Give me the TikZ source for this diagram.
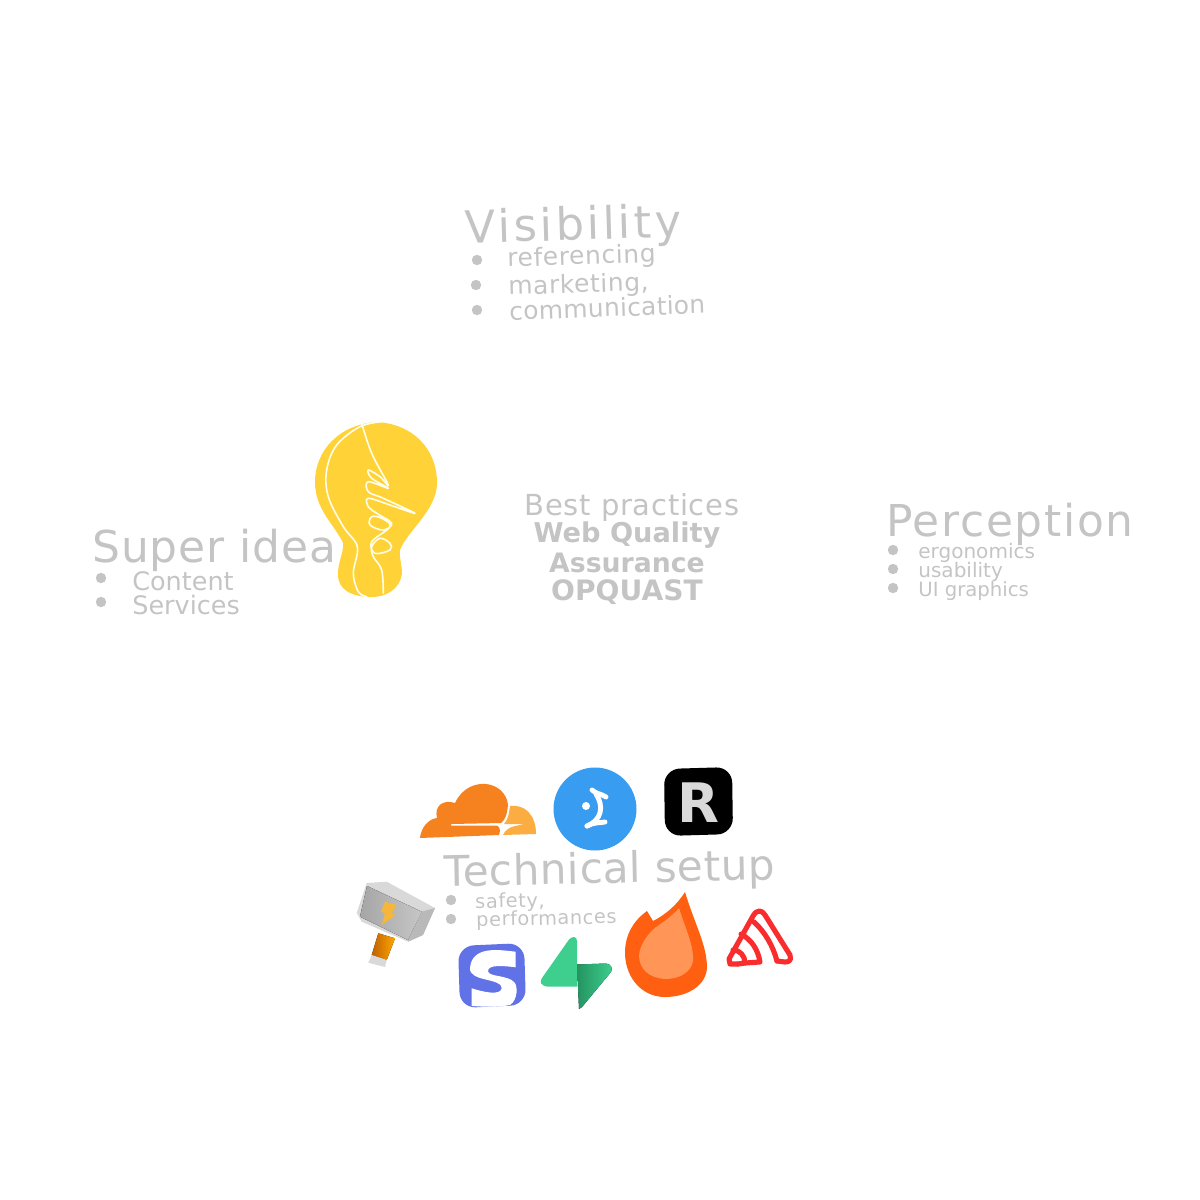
\documentclass[tikz,border=0pt]{standalone}
\usepackage{fontspec}
\setmainfont{DejaVu Sans}
\usetikzlibrary{positioning}
\definecolor{txtgray}{HTML}{C4C4C4}
\definecolor{bulbyellow}{HTML}{FFD337}
\definecolor{cforange}{HTML}{F6821F}
\definecolor{cflight}{HTML}{FBAD41}
\definecolor{dotblue}{HTML}{389CF0}
\definecolor{stripeblue}{HTML}{6172E6}
\definecolor{supagreen}{HTML}{3ECF8E}
\definecolor{supadark}{HTML}{249361}
\definecolor{fireorange}{HTML}{FF5F11}
\definecolor{firelight}{HTML}{FF9657}
\definecolor{sentryred}{HTML}{F92D2D}
\definecolor{boltyellow}{HTML}{F5B63C}
\tikzset{
	labeltext/.style 2 args={text=txtgray,anchor=west,inner sep=0pt,font=\fontsize{#1}{#1}\selectfont\addfontfeature{LetterSpace=#2}},
	centertext/.style 2 args={text=txtgray,inner sep=0pt,font=\fontsize{#1}{#1}\selectfont\addfontfeature{LetterSpace=#2}},
	boldtext/.style 2 args={text=txtgray,inner sep=0pt,font=\fontsize{#1}{#1}\selectfont\bfseries\addfontfeature{LetterSpace=#2}},
	filament/.style={draw=white!92!yellow,line width=0.9pt,line cap=round,line join=round},
	dotstroke/.style={white,line width=2.8pt,line cap=round},
	sentrystroke/.style={sentryred,line width=2.9pt,line join=round,line cap=round}
}
\newcommand{\itemdot}[2]{\fill[txtgray] (#1,#2) circle (5.2);}
\begin{document}
\begin{tikzpicture}[x=0.02cm,y=-0.02cm]
	\useasboundingbox (0,0) rectangle (1200,1200);
	% visibility
	\node[labeltext={25.5}{7},rotate=1.7] (visibility) at (465,231) {Visibility};
	\node[labeltext={14.2}{2.4},rotate=1.9] (referencing) at (507,260) {referencing};
	\node[labeltext={14.2}{2.4},rotate=1.7] (marketing) at (508,288) {marketing,};
	\node[labeltext={14.2}{1},rotate=2] (communication) at (509,311) {communication};
	\itemdot{477}{260} \itemdot{476}{285} \itemdot{477}{310}
	% super idea
	\node[labeltext={25}{2}] (superidea) at (92,550) {Super idea};
	\node[labeltext={14.5}{0}] (content) at (132,581) {Content};
	\node[labeltext={14.5}{0}] (services) at (132,605) {Services};
	\itemdot{101}{578} \itemdot{101}{602}
	% best practices
	\node[centertext={16.5}{2.6}] (best) at (632,507) {Best practices};
	\node[boldtext={15.5}{0}] (webquality) at (627,535) {Web Quality};
	\node[boldtext={15.2}{0}] (assurance) at (627,563) {Assurance};
	\node[boldtext={16}{0}] (opquast) at (627,592) {OPQUAST};
	% perception
	\node[labeltext={25}{3.8}] (perception) at (886,524) {Perception};
	\node[labeltext={11.4}{0}] (ergonomics) at (918,553) {ergonomics};
	\node[labeltext={11.4}{0}] (usability) at (918,572) {usability};
	\node[labeltext={11.2}{0}] (graphics) at (918,591) {UI graphics};
	\itemdot{893}{550} \itemdot{893}{569} \itemdot{893}{588}
	% technical setup
	\node[labeltext={24}{1},rotate=1.2] (technical) at (444,875) {Technical setup};
	\node[labeltext={11}{3},rotate=1] (safety) at (475,903) {safety,};
	\node[labeltext={11}{3},rotate=1.2] (performances) at (476,921) {performances};
	\itemdot{451}{900} \itemdot{451}{919}
	% bulb
	\fill[bulbyellow] (377,422) .. controls (412,424) and (437,448) .. (437,483)
		.. controls (437,510) and (408,530) .. (400,550)
		.. controls (399,558) and (402,565) .. (402,573)
		.. controls (400,590) and (385,597) .. (372,597)
		.. controls (352,597) and (337,590) .. (338,573)
		.. controls (338,562) and (344,552) .. (343,543)
		.. controls (335,525) and (315,510) .. (315,482)
		.. controls (315,450) and (340,424) .. (377,422) -- cycle;
	\draw[filament] plot[smooth,tension=0.6] coordinates {(381.7,421.7) (360,426.7) (336.7,445) (326.7,470) (328.3,496.7) (343.3,526.7) (357.3,546.7) (353.3,573.3) (358.3,591.7) (366.7,596.7)};
	\draw[filament] plot[smooth,tension=0.6] coordinates {(361.7,423.3) (371.7,453.3) (388.3,485) (380,476.7) (368.3,470) (371.7,478.3) (388.3,488.3) (368.3,481.7) (368.3,491.7) (383.3,498.3) (415,513.3) (390,505) (368.3,498.3) (368.3,506.7) (376.7,513.3) (391.7,523.3) (383.3,530) (370,525) (371.7,516.7) (381.7,518.3) (390,526.7) (371.7,541.7) (375,553.3) (390,550) (390,543.3) (380,538.3) (371.7,546.7) (373.3,556.7) (381.7,570) (383.3,593.3)};
	% cloudflare
	\fill[cforange] (420,838) .. controls (421,828) and (428,819) .. (437,818)
		.. controls (434,806) and (443,799) .. (455,803)
		.. controls (462,788) and (475,783) .. (486,784)
		.. controls (497,785) and (507,793) .. (508,805)
		.. controls (507,815) and (505,820) .. (501,823)
		-- (451,824) -- (451,825.5) -- (497,825.5)
		.. controls (501,827) and (500,833) .. (499,835)
		-- (420,838) -- cycle;
	\fill[cflight] (510,806) .. controls (525,804) and (536,815) .. (536,834)
		-- (503,835) .. controls (505,830) and (510,827) .. (515,826)
		-- (525,824) -- (504,824) .. controls (509,818) and (509,812) .. (510,806) -- cycle;
	% blue circle
	\fill[dotblue] (595,809) circle (41.5);
	\draw[dotstroke] (592,790) .. controls (596,794) and (602,794) .. (606,797);
	\draw[dotstroke] (596,794) .. controls (604,806) and (602,820) .. (587,826);
	\draw[dotstroke] (587,826) .. controls (594,822) and (600,823) .. (605,822);
	\fill[white] (586,806) circle (4);
	% black R
	\fill[black,rounded corners=9] (664,769) -- (732,767) -- (733,834) -- (665,836) -- cycle;
	\node[inner sep=0pt] (rletter) at (698,803) {\fontsize{31}{31}\selectfont\bfseries\color{white!85!black}R};
	% hammer
	\fill[left color=orange!75!black,right color=orange!70!yellow] (378.3,933.3) -- (395,938.3) -- (386.7,960) -- (371.7,955) -- cycle;
	\fill[gray!30] (371.7,955) -- (386.7,960) -- (385,967) -- (368.3,962.7) -- cycle;
	\fill[gray!30] (356.7,913) -- (366.7,883) -- (386.7,881.7) -- (435,908) -- (423,935) -- (408,941.7) -- (361.7,921.7) -- cycle;
	\fill[left color=gray!70,right color=gray!45] (367,886) -- (421.7,911.7) -- (408,940) -- (360,916.7) -- cycle;
	\fill[gray!55] (421.7,911.7) -- (435,908) -- (423,935) -- (408,941.7) -- cycle;
	\fill[boltyellow] (385,901.7) -- (396.7,905) -- (391.7,913.3) -- (396,915) -- (381.7,925) -- (385,913.3) -- (381,911.7) -- cycle;
	% stripe
	\fill[stripeblue,rounded corners=9] (458,946) -- (524,943) -- (526,1005) -- (460,1008) -- cycle;
	\fill[white] (515.7,951.7) .. controls (500,950) and (472,945) .. (470,968)
		.. controls (469,982) and (502,978) .. (501.7,988)
		.. controls (501,996) and (483,992) .. (471.7,988.3)
		-- (471.7,1006) .. controls (485,1007) and (500,1007) .. (510,1005)
		.. controls (518,1000) and (518,985) .. (514,982)
		.. controls (508,975) and (488,977) .. (488,971)
		.. controls (488,964) and (505,966) .. (515.7,967.3) -- cycle;
	% supabase
	\fill[supagreen] (569,939.5) .. controls (572,936) and (577,936) .. (577,941)
		-- (577,986.7) -- (548,986.7) .. controls (541,986) and (539,982) .. (542,978) -- cycle;
	\fill[left color=supadark,right color=supagreen] (577,964.5) -- (606,963.5) .. controls (611,964) and (613,968) .. (611,972)
		-- (582,1007) -- (579,1009) -- cycle;
	% firebase flame
	\fill[fireorange] (685,892) .. controls (695,925) and (707,945) .. (707,968)
		.. controls (706,985) and (688,997) .. (665,997)
		.. controls (640,997) and (624,975) .. (625,950)
		.. controls (626,935) and (632,922) .. (647,911)
		-- (653,921) .. controls (665,915) and (677,905) .. (685,892) -- cycle;
	\fill[firelight] (679,908) .. controls (684,925) and (694,945) .. (693,961)
		.. controls (691,972) and (680,979) .. (665,979)
		.. controls (650,978) and (639,970) .. (639,955)
		.. controls (640,945) and (648,932) .. (659,925)
		.. controls (666,920) and (673,915) .. (679,908) -- cycle;
	% sentry
	\draw[sentrystroke] (738,964) -- (730,964) -- (729,959) -- (753,916) .. controls (757,909) and (762,910) .. (765,915)
		-- (790,955) .. controls (792,961) and (788,962) .. (785,962) -- (777,961);
	\draw[sentrystroke] (733,950) .. controls (740,950) and (745,956) .. (745,963) -- (738,964);
	\draw[sentrystroke] (741,934) .. controls (752,940) and (758,950) .. (760,962) -- (745,963);
	\draw[sentrystroke] (754,922) .. controls (765,932) and (773,946) .. (777,961);
\end{tikzpicture}
\end{document}
